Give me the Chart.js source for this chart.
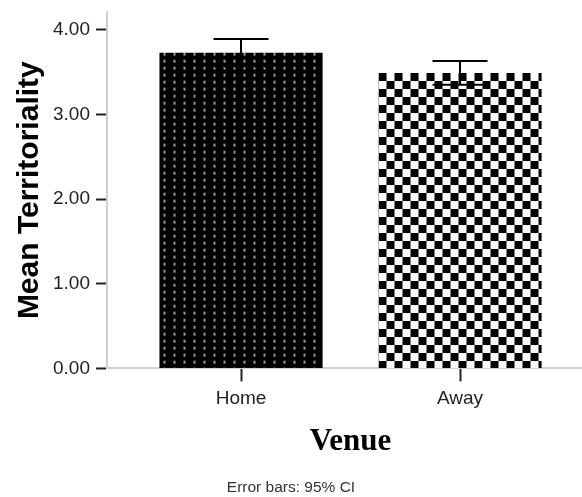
<!DOCTYPE html>
<html><head><meta charset="utf-8">
<script src="https://cdn.jsdelivr.net/npm/chart.js@4"></script>
<style>html,body{margin:0;padding:0;background:#fff}#wrap{width:582px;height:497px}</style>
</head><body><div id="wrap"><canvas id="c" width="582" height="497"></canvas></div>
<script>
const categories = ['Home', 'Away'];
const means = [3.73, 3.49];
const ciLower = [3.57, 3.35];
const ciUpper = [3.89, 3.63];
const yTicks = [0, 1, 2, 3, 4];
const yTitle = 'Mean Territoriality';
const xTitle = 'Venue';
const footnote = 'Error bars: 95% CI';

const canvas = document.getElementById('c');
const ctx0 = canvas.getContext('2d');

function dashPattern() {
  const c = document.createElement('canvas'); c.width = 10; c.height = 7;
  const g = c.getContext('2d');
  g.fillStyle = '#000'; g.fillRect(0, 0, 10, 7);
  g.fillStyle = '#9a9a9a'; g.fillRect(4, 0, 2, 3);
  return ctx0.createPattern(c, 'repeat');
}
function checkerPattern() {
  const c = document.createElement('canvas'); c.width = 16; c.height = 16;
  const g = c.getContext('2d');
  g.fillStyle = '#fff'; g.fillRect(0, 0, 16, 16);
  g.fillStyle = '#000'; g.fillRect(0, 0, 8, 8); g.fillRect(8, 8, 8, 8);
  return ctx0.createPattern(c, 'repeat');
}
const patterns = [dashPattern(), checkerPattern()];

const FONT = "'Liberation Sans', Arial, sans-serif";

const patternAlign = {
  id: 'patternAlign',
  beforeDatasetsDraw(chart) {
    const meta = chart.getDatasetMeta(0);
    meta.data.forEach((el, i) => {
      const left = el.x - el.width / 2;
      patterns[i].setTransform(new DOMMatrix().translate(left, el.y));
    });
  }
};

const errorBars = {
  id: 'errorBars',
  afterDatasetsDraw(chart, args, opts) {
    const ctx = chart.ctx, xs = chart.scales.x, ys = chart.scales.y;
    ctx.save();
    ctx.strokeStyle = opts.color; ctx.lineWidth = opts.width;
    categories.forEach((_, i) => {
      const px = xs.getPixelForValue(i);
      const yl = ys.getPixelForValue(ciLower[i]);
      const yu = ys.getPixelForValue(ciUpper[i]);
      ctx.beginPath();
      ctx.moveTo(px, yl); ctx.lineTo(px, yu);
      ctx.moveTo(px - opts.cap / 2, yu); ctx.lineTo(px + opts.cap / 2, yu);
      ctx.moveTo(px - opts.cap / 2, yl); ctx.lineTo(px + opts.cap / 2, yl);
      ctx.stroke();
    });
    ctx.restore();
  }
};

const venueTitle = {
  id: 'venueTitle',
  afterDraw(chart, args, opts) {
    const ctx = chart.ctx, xs = chart.scales.x;
    ctx.save();
    ctx.font = opts.font;
    ctx.fillStyle = '#000';
    ctx.textAlign = 'center';
    ctx.textBaseline = 'alphabetic';
    ctx.fillText(xTitle, xs.getPixelForValue((categories.length - 1) / 2), chart.chartArea.bottom + opts.offset);
    ctx.restore();
  }
};

new Chart(canvas, {
  type: 'bar',
  data: {
    datasets: [{
      data: means.map((m, i) => ({ x: i, y: m })),
      backgroundColor: (c) => patterns[c.dataIndex],
      borderWidth: 0,
      barPercentage: 0.745,
      categoryPercentage: 1
    }]
  },
  options: {
    responsive: false,
    animation: false,
    layout: { padding: { top: 12, left: 0, right: 0, bottom: 0 } },
    plugins: {
      legend: { display: false },
      tooltip: { enabled: false },
      title: { display: false },
      subtitle: {
        display: true, text: footnote, position: 'bottom',
        font: { family: FONT, size: 15.5, weight: 'normal', lineHeight: 1.2 },
        color: '#333', padding: { top: 0, bottom: 0 }
      },
      errorBars: { color: '#000', width: 2, cap: 55 },
      venueTitle: { font: "bold 31px 'Liberation Serif', 'Times New Roman', serif", offset: 82 }
    },
    scales: {
      x: {
        type: 'linear',
        offset: false,
        min: -0.612, max: 1.557,
        afterBuildTicks(s) { s.ticks = categories.map((_, i) => ({ value: i })); },
        afterFit(s) { s.height = 110; s.paddingLeft = 0; s.paddingRight = 0; },
        ticks: {
          callback: (v) => categories[v],
          font: { family: FONT, size: 19 },
          color: '#222', padding: 6, autoSkip: false, maxRotation: 0
        },
        grid: { offset: false, drawOnChartArea: false, color: 'rgba(0,0,0,0)', tickColor: '#222', tickLength: 13, tickWidth: 2 },
        border: { color: '#d0d0d0', width: 2 }
      },
      y: {
        min: 0, max: 4.21,
        afterBuildTicks(s) { s.ticks = yTicks.map(v => ({ value: v })); },
        afterFit(s) { s.width = 107; s.paddingTop = 0; s.paddingBottom = 0; },
        ticks: {
          callback: (v) => Number(v).toFixed(2),
          font: { family: FONT, size: 19 },
          color: '#222', padding: 6
        },
        grid: { drawOnChartArea: false, color: 'rgba(0,0,0,0)', tickColor: '#222', tickLength: 11, tickWidth: 2 },
        border: { color: '#d0d0d0', width: 2 },
        title: {
          display: true, text: yTitle, color: '#000',
          font: { family: FONT, size: 30, weight: 'bold', lineHeight: 1.2 },
          padding: { top: 12, bottom: 0 }
        }
      }
    }
  },
  plugins: [patternAlign, errorBars, venueTitle]
});
</script>
</body></html>
